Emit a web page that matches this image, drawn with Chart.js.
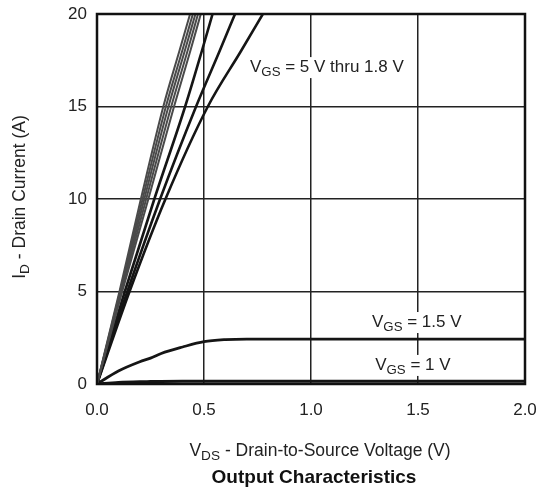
<!DOCTYPE html>
<html>
<head>
<meta charset="utf-8">
<script src="https://cdn.jsdelivr.net/npm/chart.js@4.4.1/dist/chart.umd.min.js"></script>
<style>
  html, body { margin: 0; padding: 0; background: #fff; }
</style>
</head>
<body>
<canvas id="chart" width="538" height="490"></canvas>
<script>
const idLevels = [0, 5, 10, 15, 18, 20]

// VDS (V) at each of those currents, VGS = 5 V thru 1.8 V
const vdsCurve1 = [0, 0.105, 0.205, 0.310, 0.385, 0.435]
const vdsCurve2 = [0, 0.108, 0.213, 0.322, 0.398, 0.448]
const vdsCurve3 = [0, 0.111, 0.221, 0.334, 0.410, 0.460]
const vdsCurve4 = [0, 0.114, 0.230, 0.347, 0.423, 0.472]
const vdsCurve5 = [0, 0.118, 0.240, 0.360, 0.436, 0.485]
const vdsCurve6 = [0, 0.130, 0.268, 0.412, 0.490, 0.540]
const vdsCurve7 = [0, 0.142, 0.295, 0.463, 0.573, 0.645]
const vdsCurve8 = [0, 0.152, 0.320, 0.518, 0.673, 0.775]

// low gate voltages
const vdsLow = [0, 0.1, 0.2, 0.25, 0.3, 0.4, 0.5, 0.6, 0.7, 1.0, 1.5, 2.0]
const idVgs15 = [0, 0.7, 1.2, 1.4, 1.65, 2.0, 2.29, 2.4, 2.43, 2.43, 2.43, 2.43]
const idVgs1 = [0, 0.08, 0.12, 0.13, 0.14, 0.15, 0.15, 0.15, 0.15, 0.15, 0.15, 0.15]

const xTicks = [0, 0.5, 1.0, 1.5, 2.0]
const yTicks = [0, 5, 10, 15, 20]

const FONT = '"Liberation Sans", Arial, sans-serif'
const INK = '#222'

const toPoints = (xs, ys) => xs.map((v, i) => ({ x: v, y: ys[i] }))

const steep = [vdsCurve1, vdsCurve2, vdsCurve3, vdsCurve4, vdsCurve5, vdsCurve6, vdsCurve7, vdsCurve8]
const datasets = steep.map((vds, i) => ({
  data: toPoints(vds, idLevels),
  borderColor: i < 5 ? '#4a4a4a' : '#151515',
  borderWidth: i < 5 ? 2 : 2.6,
  cubicInterpolationMode: 'monotone'
}))
datasets.push({ data: toPoints(vdsLow, idVgs15), borderColor: '#151515', borderWidth: 2.8, cubicInterpolationMode: 'monotone' })
datasets.push({ data: toPoints(vdsLow, idVgs1), borderColor: '#151515', borderWidth: 3, cubicInterpolationMode: 'monotone' })

// text with subscripts, drawn left to right from (x, y) baseline
function richText(ctx, parts, x, y, size, bold, draw) {
  let cx = x
  parts.forEach(p => {
    const s = p.sub ? size * 0.78 : size
    ctx.font = `${bold ? 'bold ' : ''}${s}px ${FONT}`
    if (draw) ctx.fillText(p.t, cx, p.sub ? y + size * 0.22 : y)
    cx += ctx.measureText(p.t).width
  })
  return cx - x
}

const curveLabels = [
  { parts: [{ t: 'V' }, { t: 'GS', sub: true }, { t: ' = 5 V thru 1.8 V' }], x: 0.715, y: 16.86 },
  { parts: [{ t: 'V' }, { t: 'GS', sub: true }, { t: ' = 1.5 V' }], x: 1.285, y: 3.08 },
  { parts: [{ t: 'V' }, { t: 'GS', sub: true }, { t: ' = 1 V' }], x: 1.30, y: 0.76 }
]

const annotate = {
  id: 'annotate',
  afterDatasetsDraw(chart) {
    const { ctx, chartArea: a, scales: { x, y } } = chart
    ctx.save()
    ctx.textBaseline = 'alphabetic'
    ctx.textAlign = 'left'

    curveLabels.forEach(l => {
      const px = x.getPixelForValue(l.x)
      const py = y.getPixelForValue(l.y)
      const w = richText(ctx, l.parts, px, py, 17, false, false)
      ctx.fillStyle = '#fff'
      ctx.fillRect(px - 3, py - 15, w + 6, 21)
      ctx.fillStyle = INK
      richText(ctx, l.parts, px, py, 17, false, true)
    })

    // plot frame
    ctx.strokeStyle = '#111'
    ctx.lineWidth = 2.5
    ctx.strokeRect(a.left, a.top, a.right - a.left, a.bottom - a.top)

    // x title
    const xt = [{ t: 'V' }, { t: 'DS', sub: true }, { t: ' - Drain-to-Source Voltage (V)' }]
    const xw = richText(ctx, xt, 0, 0, 17.5, false, false)
    ctx.fillStyle = INK
    richText(ctx, xt, 320 - xw / 2, 456, 17.5, false, true)

    // chart title
    const tt = [{ t: 'Output Characteristics' }]
    const tw = richText(ctx, tt, 0, 0, 19, true, false)
    ctx.fillStyle = '#111'
    richText(ctx, tt, 314 - tw / 2, 483, 19, true, true)

    // y title
    const yt = [{ t: 'I' }, { t: 'D', sub: true }, { t: ' - Drain Current (A)' }]
    const yw = richText(ctx, yt, 0, 0, 17.5, false, false)
    ctx.translate(25, 197)
    ctx.rotate(-Math.PI / 2)
    ctx.fillStyle = INK
    richText(ctx, yt, -yw / 2, 0, 17.5, false, true)
    ctx.restore()
  }
}

new Chart(document.getElementById('chart'), {
  type: 'line',
  data: { datasets },
  plugins: [annotate],
  options: {
    responsive: false,
    animation: false,
    layout: { padding: { top: 14, right: 13, left: 0, bottom: 0 } },
    elements: { point: { radius: 0 } },
    plugins: { legend: { display: false }, tooltip: { enabled: false } },
    scales: {
      x: {
        type: 'linear',
        min: 0,
        max: 2,
        afterBuildTicks: s => { s.ticks = xTicks.map(v => ({ value: v })) },
        afterFit: s => { s.height = 106; s.paddingLeft = 0; s.paddingRight = 0 },
        ticks: {
          color: INK,
          padding: 16,
          font: { family: FONT, size: 17 },
          callback: v => v.toFixed(1)
        },
        grid: { color: '#222', lineWidth: 1.5, drawTicks: false },
        border: { display: false }
      },
      y: {
        min: 0,
        max: 20,
        afterBuildTicks: s => { s.ticks = yTicks.map(v => ({ value: v })) },
        afterFit: s => { s.width = 97; s.paddingTop = 0; s.paddingBottom = 0 },
        ticks: {
          color: INK,
          padding: 10,
          font: { family: FONT, size: 17 },
          callback: v => String(v)
        },
        grid: { color: '#222', lineWidth: 1.5, drawTicks: false },
        border: { display: false }
      }
    }
  }
})
</script>
</body>
</html>
